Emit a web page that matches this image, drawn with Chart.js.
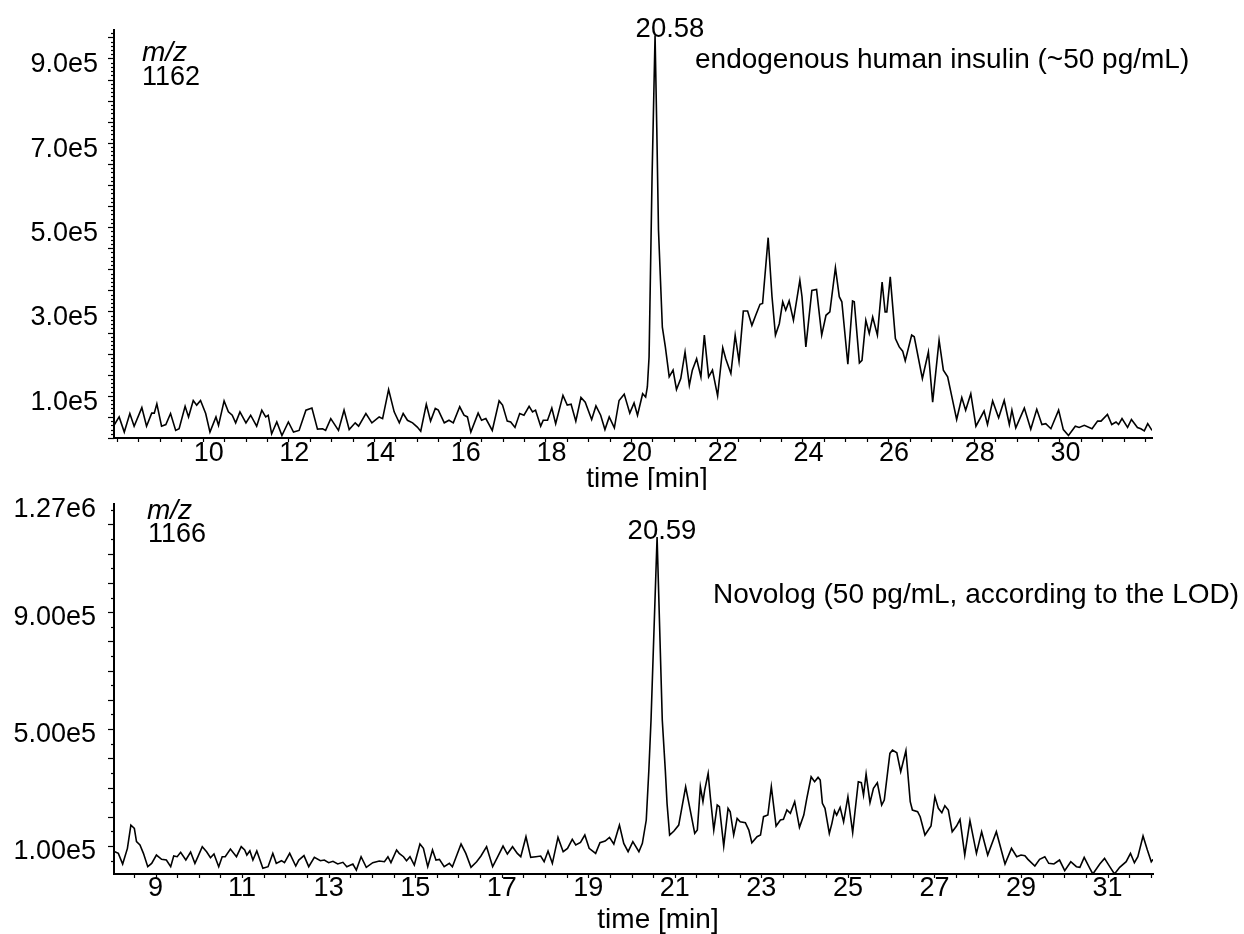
<!DOCTYPE html>
<html>
<head>
<meta charset="utf-8">
<script src="https://cdn.jsdelivr.net/npm/chart.js@4.4.1/dist/chart.umd.min.js"></script>
<style>
html,body{margin:0;padding:0;background:#fff;}
#wrap{position:relative;width:1244px;height:934px;background:#fff;}
canvas{position:absolute;left:0;}
#c1{top:0;}
#c2{top:490px;}
</style>
</head>
<body>
<div id="wrap">
<canvas id="c1" width="1244" height="490"></canvas>
<canvas id="c2" width="1244" height="444"></canvas>
</div>
<script>
// ---------- DATA ----------
// Top panel: m/z 1162, endogenous human insulin
const topTimes = [
  7.93, 8.05, 8.17, 8.30, 8.40, 8.58, 8.69, 8.81, 8.87, 8.93,
  9.04, 9.14, 9.25, 9.37, 9.45, 9.59, 9.67, 9.78, 9.86, 9.95,
  10.07, 10.17, 10.31, 10.37, 10.50, 10.60, 10.69, 10.77, 10.87, 11.01,
  11.12, 11.26, 11.38, 11.47, 11.53, 11.61, 11.73, 11.85, 12.00, 12.12,
  12.25, 12.41, 12.55, 12.68, 12.80, 12.87, 12.99, 13.17, 13.30, 13.42,
  13.56, 13.64, 13.81, 13.95, 14.12, 14.20, 14.34, 14.47, 14.59, 14.68,
  14.78, 14.90, 15.01, 15.09, 15.22, 15.32, 15.43, 15.50, 15.64, 15.75,
  15.85, 16.00, 16.10, 16.18, 16.26, 16.43, 16.51, 16.61, 16.76, 16.92,
  17.00, 17.11, 17.19, 17.29, 17.40, 17.50, 17.62, 17.70, 17.77, 17.89,
  17.95, 18.05, 18.15, 18.24, 18.41, 18.51, 18.60, 18.71, 18.83, 18.93,
  19.08, 19.18, 19.29, 19.39, 19.49, 19.61, 19.72, 19.84, 19.97, 20.07,
  20.15, 20.27, 20.34, 20.38, 20.42, 20.49, 20.56, 20.60, 20.64, 20.73,
  20.80, 20.89, 20.98, 21.06, 21.16, 21.26, 21.36, 21.43, 21.53, 21.63,
  21.71, 21.81, 21.90, 22.02, 22.14, 22.21, 22.33, 22.43, 22.52, 22.62,
  22.72, 22.82, 22.91, 23.01, 23.07, 23.20, 23.29, 23.37, 23.46, 23.54,
  23.61, 23.69, 23.79, 23.94, 23.99, 24.08, 24.22, 24.33, 24.45, 24.55,
  24.64, 24.77, 24.86, 24.92, 25.06, 25.17, 25.21, 25.33, 25.39, 25.48,
  25.56, 25.64, 25.75, 25.86, 25.93, 25.97, 26.05, 26.17, 26.26, 26.34,
  26.40, 26.55, 26.61, 26.80, 26.94, 27.04, 27.19, 27.29, 27.39, 27.49,
  27.60, 27.72, 27.81, 27.93, 28.05, 28.24, 28.32, 28.44, 28.58, 28.71,
  28.83, 28.89, 28.98, 29.18, 29.33, 29.47, 29.59, 29.68, 29.80, 29.98,
  30.09, 30.21, 30.37, 30.46, 30.58, 30.76, 30.89, 30.97, 31.12, 31.22,
  31.32, 31.38, 31.46, 31.59, 31.68, 31.82, 31.90, 31.98, 32.06, 32.16
];
const topIntensity = [
  30000, 50000, 14000, 58000, 28000, 72000, 28000, 59000, 59000, 81000,
  28000, 32000, 58000, 18000, 22000, 75000, 50000, 89000, 78000, 89000,
  58000, 14000, 50000, 30000, 88000, 62000, 54000, 36000, 62000, 36000,
  54000, 28000, 66000, 50000, 54000, 10000, 38000, 6000, 38000, 14000,
  18000, 66000, 71000, 21000, 22000, 18000, 46000, 18000, 66000, 20000,
  36000, 28000, 58000, 36000, 50000, 46000, 115000, 62000, 36000, 58000,
  42000, 36000, 26000, 16000, 80000, 40000, 70000, 66000, 36000, 42000,
  36000, 74000, 54000, 50000, 14000, 59000, 42000, 46000, 18000, 88000,
  78000, 40000, 38000, 25000, 58000, 54000, 75000, 62000, 66000, 28000,
  42000, 42000, 71000, 34000, 101000, 78000, 80000, 40000, 96000, 85000,
  44000, 76000, 54000, 20000, 50000, 24000, 89000, 104000, 59000, 83000,
  54000, 105000, 97000, 121000, 192000, 620000, 955000, 735000, 493000, 263000,
  216000, 145000, 161000, 115000, 141000, 204000, 125000, 161000, 188000, 145000,
  244000, 145000, 161000, 100000, 214000, 188000, 153000, 244000, 182000, 301000,
  301000, 267000, 291000, 317000, 319000, 475000, 335000, 244000, 271000, 323000,
  303000, 325000, 279000, 374000, 335000, 216000, 350000, 352000, 244000, 291000,
  299000, 404000, 335000, 323000, 175000, 325000, 323000, 178000, 184000, 279000,
  248000, 287000, 244000, 370000, 299000, 299000, 382000, 236000, 216000, 206000,
  183000, 244000, 240000, 141000, 204000, 85000, 232000, 161000, 145000, 97000,
  44000, 96000, 66000, 105000, 28000, 64000, 32000, 88000, 48000, 89000,
  32000, 66000, 24000, 71000, 21000, 68000, 32000, 34000, 22000, 66000,
  20000, 6000, 28000, 25000, 30000, 22000, 40000, 40000, 56000, 32000,
  38000, 32000, 46000, 25000, 44000, 25000, 22000, 17000, 34000, 18000
];
const topXTicks = [10, 12, 14, 16, 18, 20, 22, 24, 26, 28, 30];
const topYTicks = [100000, 300000, 500000, 700000, 900000];

// Bottom panel: m/z 1166, Novolog
const bottomTimes = [
  8.06, 8.14, 8.24, 8.35, 8.43, 8.51, 8.56, 8.64, 8.72, 8.82,
  8.91, 9.02, 9.14, 9.25, 9.35, 9.42, 9.50, 9.58, 9.70, 9.81,
  9.91, 9.98, 10.08, 10.18, 10.27, 10.35, 10.46, 10.54, 10.61, 10.73,
  10.87, 10.98, 11.06, 11.11, 11.18, 11.25, 11.34, 11.48, 11.60, 11.71,
  11.79, 11.91, 11.98, 12.10, 12.24, 12.31, 12.43, 12.54, 12.67, 12.81,
  12.90, 13.00, 13.10, 13.21, 13.33, 13.42, 13.56, 13.64, 13.75, 13.87,
  14.02, 14.17, 14.29, 14.37, 14.44, 14.57, 14.63, 14.73, 14.80, 14.88,
  14.98, 15.11, 15.19, 15.29, 15.40, 15.48, 15.56, 15.67, 15.79, 15.86,
  16.06, 16.17, 16.29, 16.42, 16.52, 16.65, 16.79, 16.90, 17.03, 17.13,
  17.25, 17.36, 17.44, 17.56, 17.67, 17.79, 17.90, 17.98, 18.07, 18.17,
  18.30, 18.42, 18.52, 18.63, 18.71, 18.82, 18.92, 19.02, 19.17, 19.27,
  19.39, 19.49, 19.59, 19.72, 19.82, 19.92, 20.03, 20.17, 20.25, 20.34,
  20.40, 20.45, 20.59, 20.71, 20.78, 20.82, 20.88, 20.98, 21.09, 21.25,
  21.34, 21.46, 21.52, 21.59, 21.65, 21.69, 21.77, 21.82, 21.90, 21.98,
  22.03, 22.13, 22.23, 22.28, 22.36, 22.44, 22.51, 22.63, 22.71, 22.78,
  22.90, 22.98, 23.05, 23.15, 23.23, 23.34, 23.44, 23.51, 23.59, 23.67,
  23.77, 23.88, 23.98, 24.05, 24.15, 24.23, 24.31, 24.36, 24.41, 24.47,
  24.57, 24.63, 24.69, 24.74, 24.82, 24.90, 25.00, 25.11, 25.24, 25.31,
  25.36, 25.42, 25.51, 25.59, 25.68, 25.78, 25.84, 25.97, 26.03, 26.13,
  26.22, 26.34, 26.44, 26.49, 26.61, 26.67, 26.78, 26.92, 27.01, 27.09,
  27.17, 27.24, 27.32, 27.41, 27.51, 27.59, 27.70, 27.82, 27.97, 28.09,
  28.23, 28.43, 28.63, 28.78, 28.90, 29.00, 29.09, 29.16, 29.32, 29.43,
  29.55, 29.64, 29.76, 29.89, 30.01, 30.15, 30.28, 30.36, 30.46, 30.59,
  30.66, 30.82, 30.93, 31.05, 31.16, 31.28, 31.43, 31.53, 31.62, 31.70,
  31.82, 31.92, 32.01, 32.05
];
const bottomIntensity = [
  80600, 74900, 38500, 92000, 171800, 160400, 114800, 103400, 74900, 29300,
  40700, 69200, 54400, 52100, 29300, 65800, 63500, 78300, 52100, 79500,
  40700, 63500, 97700, 80600, 60100, 72600, 29300, 63500, 63500, 89700,
  63500, 97700, 86300, 69200, 84000, 52100, 82900, 23600, 29300, 74900,
  40700, 49900, 43000, 74900, 31600, 52100, 67000, 29300, 61300, 49900,
  52100, 43000, 47600, 38500, 44200, 29300, 38500, 17900, 63500, 27100,
  43000, 48700, 46400, 63500, 43000, 86300, 74900, 63500, 49900, 63500,
  35000, 106800, 92000, 29300, 86300, 52100, 54400, 29300, 40700, 29300,
  106800, 74900, 27100, 46400, 65800, 97700, 29300, 61300, 100000, 72600,
  97700, 74900, 63500, 131900, 61300, 63500, 65800, 46400, 82900, 40700,
  129600, 80600, 92000, 122800, 103400, 112500, 137600, 92000, 74900, 111400,
  117100, 129600, 106800, 171800, 109100, 80600, 114800, 80600, 109100, 188900,
  359800, 530800, 1157000, 530800, 359800, 245900, 137600, 151300, 171800, 302800,
  234500, 143300, 154700, 302800, 251600, 291400, 348400, 268700, 154700, 240200,
  234500, 100000, 228800, 217400, 137600, 194600, 183200, 179800, 154700, 111400,
  131900, 137600, 200300, 206000, 302800, 168400, 188900, 191200, 223100, 211700,
  251600, 163800, 206000, 263000, 337000, 319900, 334800, 325600, 245900, 228800,
  143300, 177500, 220800, 206000, 232200, 183200, 268700, 145600, 319900, 316500,
  274400, 346200, 248100, 297100, 316500, 240200, 257300, 416800, 428200, 419100,
  354100, 425900, 251600, 223100, 217400, 200300, 137600, 168400, 268700, 228800,
  214000, 237900, 223100, 149000, 168400, 191200, 69200, 186600, 74900, 149000,
  69200, 149000, 38500, 92000, 63500, 69200, 67000, 54400, 31600, 54400,
  63500, 40700, 38500, 52100, 15700, 46400, 29300, 27100, 61300, 23600,
  4300, 38500, 57800, 29300, 4300, 27100, 46400, 74900, 43000, 63500,
  134200, 86300, 46400, 54400
];
const bottomXTicks = [9, 11, 13, 15, 17, 19, 21, 23, 25, 27, 29, 31];
const bottomYTicks = [100000, 500000, 900000, 1270000];

// ---------- RENDERING ----------
const FONT = "'Liberation Sans', Arial, Helvetica, sans-serif";

function decorPlugin(spec) {
  return {
    id: 'decor',
    afterDraw(chart) {
      const ctx = chart.ctx;
      const xs = chart.scales.x, ys = chart.scales.y;
      ctx.save();
      ctx.strokeStyle = '#000';
      ctx.lineWidth = 1.2;
      // x-axis small ticks
      for (let k = Math.ceil(xs.min / spec.xStep - 1e-9); k * spec.xStep <= xs.max + 1e-9; k++) {
        const px = Math.round(xs.getPixelForValue(k * spec.xStep)) + 0.5;
        ctx.beginPath();
        ctx.moveTo(px, xs.top);
        ctx.lineTo(px, xs.top + spec.xTickLen);
        ctx.stroke();
      }
      // y-axis small/medium ticks
      for (let k = Math.ceil(ys.min / spec.yStep - 1e-9); k * spec.yStep <= ys.max + 1e-6; k++) {
        const v = k * spec.yStep;
        const r = v / spec.yMajorStep;
        const major = Math.abs(r - Math.round(r)) < 1e-6;
        const len = major ? spec.yMajorLen : spec.yMinorLen;
        const py = Math.round(ys.getPixelForValue(v)) + 0.5;
        ctx.beginPath();
        ctx.moveTo(ys.right, py);
        ctx.lineTo(ys.right - len, py);
        ctx.stroke();
      }
      // annotation texts
      ctx.fillStyle = '#000';
      ctx.textBaseline = 'alphabetic';
      for (const t of spec.texts) {
        ctx.font = (t.italic ? 'italic ' : '') + t.size + 'px ' + FONT;
        ctx.textAlign = t.align || 'left';
        ctx.fillText(t.text, t.x, t.y);
      }
      ctx.restore();
    }
  };
}

function makeChart(id, cfg) {
  const points = cfg.times.map((t, i) => ({ x: t, y: cfg.values[i] }));
  return new Chart(document.getElementById(id), {
    type: 'line',
    data: {
      datasets: [{
        data: points,
        borderColor: '#000',
        borderWidth: 1.6,
        pointRadius: 0,
        tension: 0,
        fill: false
      }]
    },
    options: {
      responsive: false,
      animation: false,
      devicePixelRatio: 1,
      layout: { padding: cfg.padding },
      plugins: { legend: { display: false }, tooltip: { enabled: false }, title: { display: false } },
      scales: {
        x: {
          type: 'linear',
          min: cfg.xMin,
          max: cfg.xMax,
          afterBuildTicks: s => { s.ticks = cfg.xTicks.map(v => ({ value: v })); },
          afterFit: s => { s.height = cfg.xAxisHeight; s.paddingLeft = 0; s.paddingRight = 0; },
          grid: { display: false, drawTicks: false, tickLength: 0 },
          border: { display: true, color: '#000', width: 2 },
          ticks: {
            autoSkip: false, maxRotation: 0, minRotation: 0,
            color: '#000',
            font: { family: FONT, size: 27, lineHeight: 1 },
            padding: cfg.xLabelPad,
            labelOffset: cfg.xLabelOffset,
            callback: v => String(v)
          }
        },
        y: {
          type: 'linear',
          min: cfg.yMin,
          max: cfg.yMax,
          afterBuildTicks: s => { s.ticks = cfg.yTicks.map(v => ({ value: v })); },
          afterFit: s => { s.width = cfg.yAxisWidth; s.paddingTop = 0; s.paddingBottom = 0; },
          grid: { display: false, drawTicks: false, tickLength: 0 },
          border: { display: true, color: '#000', width: 2 },
          ticks: {
            autoSkip: false,
            color: '#000',
            font: { family: FONT, size: 27, lineHeight: 1 },
            padding: cfg.yLabelPad,
            labelOffset: cfg.yLabelOffset,
            callback: v => Number(v).toExponential(cfg.yDigits).replace('e+', 'e')
          }
        }
      }
    },
    plugins: [decorPlugin(cfg.decor)]
  });
}

makeChart('c1', {
  times: topTimes, values: topIntensity,
  xTicks: topXTicks, yTicks: topYTicks,
  xMin: 7.93, xMax: 32.16, yMin: 0, yMax: 967500,
  padding: { top: 30, right: 92, bottom: 0, left: 0 },
  xAxisHeight: 52, yAxisWidth: 114,
  xLabelPad: 2, xLabelOffset: 6, yLabelPad: 16, yLabelOffset: 6.5, yDigits: 1,
  decor: {
    xStep: 0.5, xTickLen: 4,
    yStep: 10000, yMajorStep: 50000, yMinorLen: 3, yMajorLen: 6,
    texts: [
      { text: 'm/z', x: 142, y: 61, size: 28, italic: true },
      { text: '1162', x: 142, y: 85, size: 27 },
      { text: '20.58', x: 670, y: 37, size: 27.5, align: 'center' },
      { text: 'endogenous human insulin (~50 pg/mL)', x: 695, y: 68, size: 28 },
      { text: 'time [min]', x: 647, y: 487, size: 28, align: 'center' }
    ]
  }
});

makeChart('c2', {
  times: bottomTimes, values: bottomIntensity,
  xTicks: bottomXTicks, yTicks: bottomYTicks,
  xMin: 8.04, xMax: 32.05, yMin: 4300, yMax: 1270000,
  padding: { top: 14, right: 91, bottom: 0, left: 0 },
  xAxisHeight: 60, yAxisWidth: 114,
  xLabelPad: 1, xLabelOffset: 0, yLabelPad: 18, yLabelOffset: 5.5, yDigits: 2,
  decor: {
    xStep: 0.5, xTickLen: 4,
    yStep: 50000, yMajorStep: 100000, yMinorLen: 3, yMajorLen: 6,
    texts: [
      { text: 'm/z', x: 147, y: 29, size: 28, italic: true },
      { text: '1166', x: 148, y: 52, size: 27 },
      { text: '20.59', x: 662, y: 49, size: 27.5, align: 'center' },
      { text: 'Novolog (50 pg/mL, according to the LOD)', x: 713, y: 113, size: 28 },
      { text: 'time [min]', x: 658, y: 438, size: 28, align: 'center' }
    ]
  }
});
</script>
</body>
</html>
